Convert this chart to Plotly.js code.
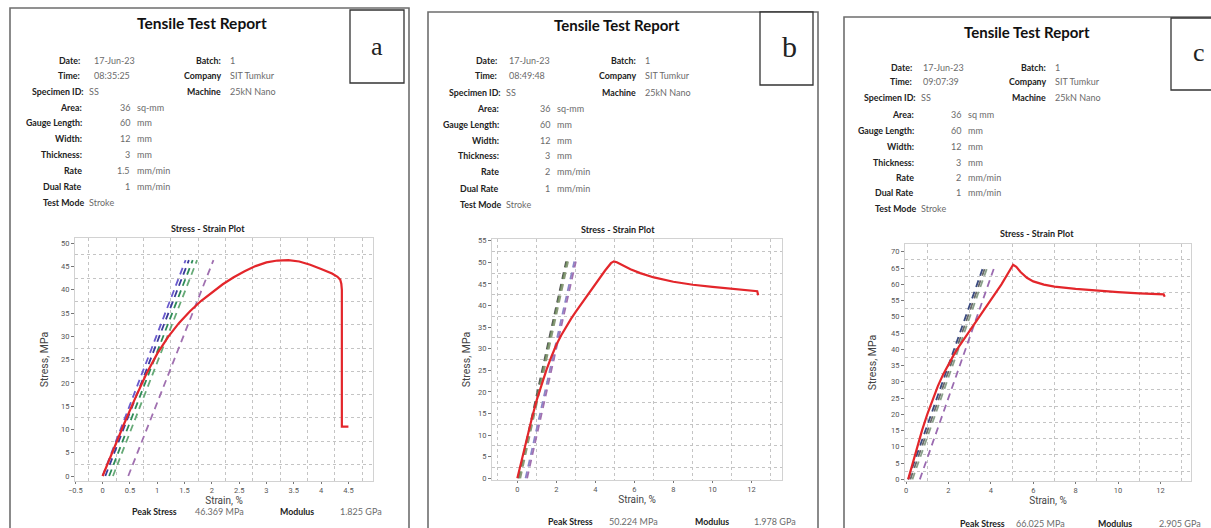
<!DOCTYPE html>
<html><head><meta charset="utf-8">
<script src="https://cdn.plot.ly/plotly-3.0.1.min.js"></script>
<style>html,body{margin:0;padding:0;background:#fff}#chart{width:1211px;height:528px}</style>
</head><body><div id="chart"></div>
<script>
// ---------- DATA ----------
// Panel a (stress-strain curve)
const strainA = [0, 0.2, 0.4, 0.6, 0.8, 1.0, 1.2, 1.4, 1.6, 1.8, 2.0, 2.2, 2.4, 2.6, 2.8, 3.0, 3.2, 3.4, 3.6, 3.8, 4.0, 4.2, 4.3, 4.35, 4.37, 4.38, 4.38, 4.5];
const stressA = [0, 5.8, 11.4, 16.8, 21.9, 26.3, 29.9, 32.9, 35.4, 37.6, 39.5, 41.2, 42.7, 44.0, 45.1, 45.9, 46.3, 46.37, 46.1, 45.4, 44.5, 43.5, 42.8, 42.2, 41.3, 40.0, 10.6, 10.6];
const modStartA = [0.0, 0.05, 0.12, 0.19, 0.47];
const modEndA = [1.52, 1.58, 1.65, 1.73, 2.03];
const modTopA = 46.4;
// Panel b
const strainB = [0, 0.25, 0.5, 0.75, 1.0, 1.25, 1.5, 1.75, 2.0, 2.25, 2.5, 2.75, 3.0, 3.5, 4.0, 4.5, 4.8, 4.95, 5.1, 5.4, 5.8, 6.3, 7.0, 8.0, 9.0, 10.0, 11.0, 12.0, 12.3, 12.35];
const stressB = [0, 4.9, 9.6, 14.0, 18.2, 21.9, 25.2, 28.2, 30.9, 33.1, 35.1, 36.9, 38.6, 41.8, 45.0, 48.1, 49.8, 50.22, 50.0, 49.3, 48.4, 47.5, 46.5, 45.5, 44.8, 44.3, 43.9, 43.5, 43.3, 42.4];
const modStartB = [0.05, 0.1, 0.15, 0.42, 0.5];
const modEndB = [2.5, 2.55, 2.6, 2.92, 3.0];
const modTopB = 50.2;
// Panel c
const strainC = [0.1, 0.3, 0.5, 0.75, 1.0, 1.25, 1.5, 1.75, 2.0, 2.25, 2.5, 3.0, 3.5, 4.0, 4.5, 4.8, 5.05, 5.2, 5.4, 5.7, 6.0, 6.5, 7.0, 8.0, 9.0, 10.0, 11.0, 12.0, 12.15, 12.2];
const stressC = [0, 4.8, 9.5, 15.0, 20.0, 24.6, 28.7, 32.3, 35.5, 38.3, 40.9, 45.8, 50.5, 55.2, 60.0, 63.2, 66.03, 65.4, 63.8, 62.0, 60.9, 59.9, 59.3, 58.6, 58.0, 57.6, 57.2, 57.0, 56.9, 56.2];
const modStartC = [0.1, 0.2, 0.3, 0.65];
const modEndC = [3.62, 3.72, 3.82, 4.15];
const modTopC = 65.0;

// Report texts
const panelLetters = ["a", "b", "c"];
const reportTitle = "Tensile Test Report";
const dates = ["17-Jun-23", "17-Jun-23", "17-Jun-23"];
const times = ["08:35:25", "08:49:48", "09:07:39"];
const specimenIds = ["SS", "SS", "SS"];
const specLabels = ["Area:", "Gauge Length:", "Width:", "Thickness:", "Rate", "Dual Rate"];
const specNumbersA = ["36", "60", "12", "3", "1.5", "1"];
const specNumbersB = ["36", "60", "12", "3", "2", "1"];
const specNumbersC = ["36", "60", "12", "3", "2", "1"];
const specUnitsA = ["sq-mm", "mm", "mm", "mm", "mm/min", "mm/min"];
const specUnitsB = ["sq-mm", "mm", "mm", "mm", "mm/min", "mm/min"];
const specUnitsC = ["sq mm", "mm", "mm", "mm", "mm/min", "mm/min"];
const rightLabels = ["Batch:", "Company", "Machine"];
const rightValues = ["1", "SIT Tumkur", "25kN Nano"];
const testMode = "Stroke";
const peakStress = ["46.369 MPa", "50.224 MPa", "66.025 MPa"];
const modulus = ["1.825 GPa", "1.978 GPa", "2.905 GPa"];

// ---------- STYLE / LAYOUT ----------
const W = 1211, H = 528;
const px = v => v / W;
const py = v => 1 - v / H;
const RED = '#e3262b';
const modColorsA = ['#6a5acd', '#3b3b9a', '#2e8b57', '#66aa77', '#a070b0'];
const modColorsB = ['#555555', '#6b8e5a', '#8a9a7a', '#8a86c8', '#a070b0'];
const modColorsC = ['#3a4a80', '#6a6a6a', '#8aa08a', '#9a6ab0'];
const TXT = 'Lato, "Open Sans", sans-serif';
const AX = 'Roboto, "Liberation Sans", sans-serif';

const panels = [
  { strain: strainA, stress: stressA, ms: modStartA, me: modEndA, mt: modTopA, mc: modColorsA,
    nums: specNumbersA, units: specUnitsA,
    dom: [75, 373, 238, 481], xr: [-0.505, 4.95], yr: [-1.07, 51.14], xd: 0.5, xm: 0.25, yd: 5, ym: 2.5,
    ystand: 10, frame: [10, 8, 409, 540], box: [350, 10, 404, 83], letter: [377, 46, 26],
    title: [202, 23, 15.5], lblR: 84, valL: 92, numR: 132, unitL: 135,
    rows: [60, 75, 91, 107, 122, 138, 154, 170, 186, 202], rLblR: 223, rValL: 228,
    plotTitle: [208, 228], bottom: [155, 219, 297, 361, 511] },
  { strain: strainB, stress: stressB, ms: modStartB, me: modEndB, mt: modTopB, mc: modColorsB,
    nums: specNumbersB, units: specUnitsB,
    dom: [492, 782, 239, 480], xr: [-1.3, 13.57], yr: [-0.4, 55.4], xd: 2, xm: 1, yd: 5, ym: 2.5,
    ystand: 5, frame: [428, 12, 818, 540], box: [760, 12, 813, 85], letter: [789, 46, 30],
    title: [617, 25, 15], lblR: 501, valL: 507, numR: 552, unitL: 555,
    rows: [61, 76, 92, 108, 124, 140, 156, 172, 188, 204], rLblR: 638, rValL: 643,
    plotTitle: [618, 230], bottom: [570, 633, 712, 775, 521] },
  { strain: strainC, stress: stressC, ms: modStartC, me: modEndC, mt: modTopC, mc: modColorsC,
    nums: specNumbersC, units: specUnitsC,
    dom: [905, 1191, 244, 481], xr: [-0.05, 13.44], yr: [-0.5, 72.4], xd: 2, xm: 1, yd: 5, ym: 2.5,
    ystand: 12, frame: [844, 17, 1230, 540], box: [1171, 18, 1230, 90], letter: [1199, 52, 26],
    title: [1027, 32, 15], lblR: 916, valL: 921, numR: 963, unitL: 966,
    rows: [67, 82, 98, 115, 131, 146, 162, 177, 193, 208], rLblR: 1048, rValL: 1053,
    plotTitle: [1037, 233], bottom: [982, 1040, 1115, 1180, 523] }
];

const traces = [];
const layout = {
  width: W, height: H, margin: {l: 0, r: 0, t: 0, b: 0},
  paper_bgcolor: '#fff', plot_bgcolor: '#fff', showlegend: false,
  annotations: [], shapes: []
};

function ann(text, x, y, xanchor, opts) {
  layout.annotations.push(Object.assign({
    text: text, x: px(x), y: py(y), xref: 'paper', yref: 'paper',
    xanchor: xanchor, yanchor: 'middle', showarrow: false,
    font: {family: TXT, size: 10, color: '#222'}
  }, opts || {}));
}
const lblFont = {family: TXT, size: 8.8, color: '#222', weight: 'bold'};
const valFont = {family: TXT, size: 9, color: '#6b6b6b'};

panels.forEach((p, i) => {
  const sfx = i === 0 ? '' : String(i + 1);
  const xa = 'x' + sfx, ya = 'y' + sfx;
  // modulus offset lines
  p.ms.forEach((s, k) => {
    traces.push({x: [s, p.me[k]], y: [0, p.mt], xaxis: xa, yaxis: ya, mode: 'lines', hoverinfo: 'skip',
      line: {color: p.mc[k], width: 1.8, dash: '7px,5px'}});
  });
  traces.push({x: p.strain, y: p.stress, xaxis: xa, yaxis: ya, mode: 'lines',
    line: {color: RED, width: 2.2}});

  const axBase = {
    showgrid: false, zeroline: false, showline: true, mirror: true, linecolor: '#d2d2d2', linewidth: 1,
    ticks: 'outside', ticklen: 3, tickcolor: '#777', automargin: false,
    tickfont: {family: AX, size: 7.5, color: '#555'}
  };
  layout['xaxis' + sfx] = Object.assign({}, axBase, {
    domain: [px(p.dom[0]), px(p.dom[1])], range: p.xr, anchor: ya, tick0: 0, dtick: p.xd, ticklen: 1.5,
    minor: {dtick: p.xm, tick0: 0, showgrid: true, griddash: 'dot', gridcolor: '#c4c4c4', gridwidth: 1, ticks: ''},
    title: {text: 'Strain, %', font: {family: AX, size: 10, color: '#444'}, standoff: 0}
  });
  layout['yaxis' + sfx] = Object.assign({}, axBase, {
    domain: [py(p.dom[3]), py(p.dom[2])], range: p.yr, anchor: xa, tick0: 0, dtick: p.yd,
    minor: {dtick: p.ym, tick0: 0, showgrid: true, griddash: 'dot', gridcolor: '#c4c4c4', gridwidth: 1, ticks: ''},
    title: {text: 'Stress, MPa', font: {family: AX, size: 10.5, color: '#444'}, standoff: p.ystand}
  });

  // frames
  layout.shapes.push({type: 'rect', xref: 'paper', yref: 'paper', x0: px(p.frame[0]), x1: px(p.frame[2]),
    y0: py(p.frame[1]), y1: py(p.frame[3]), line: {color: '#6e6e6e', width: 1.6}, fillcolor: 'rgba(0,0,0,0)'});
  layout.shapes.push({type: 'rect', xref: 'paper', yref: 'paper', x0: px(p.box[0]), x1: px(p.box[2]),
    y0: py(p.box[1]), y1: py(p.box[3]), line: {color: '#333', width: 1.3}, fillcolor: '#fff'});
  ann(panelLetters[i], p.letter[0], p.letter[1], 'center',
    {font: {family: '"Liberation Serif", "DejaVu Serif", serif', size: p.letter[2], color: '#222'}});

  // report title
  ann(reportTitle, p.title[0], p.title[1], 'center', {font: {family: TXT, size: p.title[2], color: '#111', weight: 'bold'}});

  // header rows
  ann('Date:', p.lblR - 2, p.rows[0], 'right', {font: lblFont});
  ann(dates[i], p.valL, p.rows[0], 'left', {font: valFont});
  ann('Time:', p.lblR - 2, p.rows[1], 'right', {font: lblFont});
  ann(times[i], p.valL, p.rows[1], 'left', {font: valFont});
  ann('Specimen ID:', p.lblR + 2, p.rows[2], 'right', {font: lblFont});
  ann(specimenIds[i], p.lblR + 3, p.rows[2], 'left', {font: valFont});
  specLabels.forEach((l, k) => {
    ann(l, p.lblR, p.rows[3 + k], 'right', {font: lblFont});
    ann(p.nums[k], p.numR, p.rows[3 + k], 'right', {font: valFont});
    ann(p.units[k], p.unitL, p.rows[3 + k], 'left', {font: valFont});
  });
  ann('Test Mode', p.lblR + 2, p.rows[9], 'right', {font: lblFont});
  ann(testMode, p.lblR + 3, p.rows[9], 'left', {font: valFont});
  rightLabels.forEach((l, k) => {
    ann(l, p.rLblR, p.rows[k], 'right', {font: lblFont});
    ann(rightValues[k], p.rValL, p.rows[k], 'left', {font: valFont});
  });

  // plot title
  ann('Stress - Strain Plot', p.plotTitle[0], p.plotTitle[1], 'center', {font: {family: TXT, size: 9, color: '#222', weight: 'bold'}});

  // bottom line
  ann('Peak Stress', p.bottom[0], p.bottom[4], 'center', {font: lblFont});
  ann(peakStress[i], p.bottom[1], p.bottom[4], 'center', {font: valFont});
  ann('Modulus', p.bottom[2], p.bottom[4], 'center', {font: lblFont});
  ann(modulus[i], p.bottom[3], p.bottom[4], 'center', {font: valFont});
});

Plotly.newPlot('chart', traces, layout, {staticPlot: true, displayModeBar: false});
</script>
</body></html>
